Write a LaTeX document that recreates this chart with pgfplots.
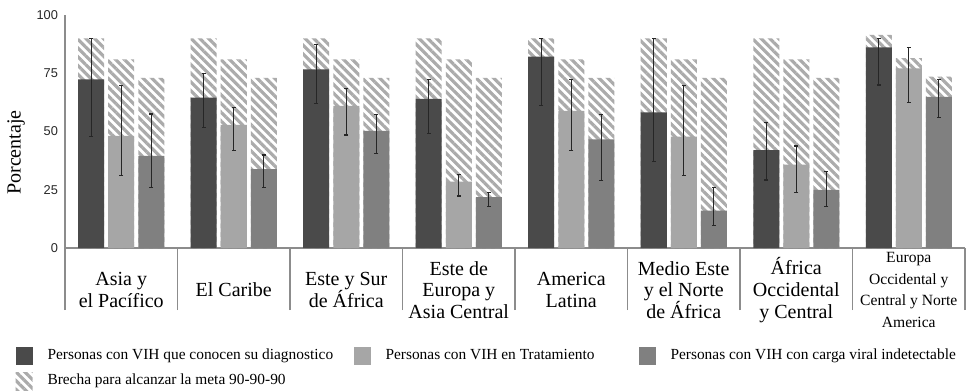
\documentclass[border=0pt]{standalone}
\usepackage{fontspec}
\setmainfont{Liberation Serif}
\newfontfamily\sansf{Liberation Sans}
\usepackage{pgfplots}
\pgfplotsset{compat=1.18}
\usepackage{pgfplotstable}
\usetikzlibrary{patterns.meta}
\definecolor{cdark}{HTML}{4A4A4A}
\definecolor{clight}{HTML}{A6A6A6}
\definecolor{cmid}{HTML}{808080}
\definecolor{chatch}{HTML}{ABABAB}
\definecolor{caxis}{HTML}{8C8C8C}
\newcommand\eu{\fontsize{7.8}{8.7}\selectfont}

% x positions of the three bars within each group (group centres 0..7, offset 15pt = 0.2667)
\pgfplotstableread{
x xd xm d dp dm l lp lm m mp mm g1 g2 g3
0 -0.2667 0.2667 72.4 17.6 24.6 48.1 21.6 17.1 39.5 18.0 13.5 90 81 73
1 0.7333 1.2667 64.5 10.5 12.9 52.8 7.6 10.8 33.9 6.0 7.9 90 81 73
2 1.7333 2.2667 76.7 10.7 14.8 61.0 7.5 12.5 50.3 7.1 9.7 90 81 73
3 2.7333 3.2667 64.0 8.4 14.8 28.5 3.1 6.2 21.8 1.9 4.1 90 81 73
4 3.7333 4.2667 82.1 7.9 21.1 58.8 13.6 16.8 46.6 10.8 17.8 90 81 73
5 4.7333 5.2667 58.2 31.8 21.2 47.8 21.9 16.8 16.0 10.0 6.4 90 81 73
6 5.7333 6.2667 42.0 12.0 12.8 35.8 8.0 11.9 24.9 7.8 7.2 90 81 73
7 6.7333 7.2667 86.1 3.9 16.1 77.1 8.9 14.6 64.9 7.5 9.0 91.5 81.5 73.5
}\data

\tikzset{hatchfill/.style={draw=none, pattern={Lines[angle=-45,distance=3.1pt,line width=1.6pt]}, pattern color=chatch}}
\pgfplotsset{
  errs/.style={error bars/.cd, y dir=both, y explicit,
    error bar style={line width=0.6pt, black!85},
    error mark options={rotate=90, mark size=1pt, line width=0.6pt, black!85}},
}

\begin{document}
\begin{tikzpicture}
\begin{axis}[
  name=ax, at={(0pt,0pt)}, anchor=south west,
  scale only axis, width=450pt, height=116.5pt,
  xmin=-0.5, xmax=7.5, ymin=0, ymax=100,
  axis lines*=left,
  axis line style={caxis, line width=0.8pt},
  xtick={-0.5,0.5,...,7.5}, xticklabels={},
  xtick align=outside, ytick align=inside,
  major tick length=31pt,
  x tick style={draw=caxis, line width=0.8pt},
  ytick={0,25,50,75,100},
  y tick style={draw=none},
  yticklabel style={font=\sansf\fontsize{6.4}{7}\selectfont, text=black!85},
  /pgf/number format/assume math mode=true,
  extra x ticks={0,1,2,3,4,5,6,7},
  extra x tick labels={{Asia y\\el Pacífico},{El Caribe},{Este y Sur\\de África},{Este de\\Europa y\\Asia Central},{America\\Latina},{Medio Este\\y el Norte\\de África},{África\\Occidental\\y Central},{\eu Europa\\\eu Occidental y\\\eu Central y Norte\\\eu America}},
  extra x tick style={major tick length=0pt, x tick style={draw=none},
    xticklabel style={align=center, anchor=center, yshift=-21pt, font=\fontsize{10}{10.9}\selectfont}},
  ylabel={Porcentaje},
  ylabel style={font=\fontsize{10}{12}\selectfont, at={(ticklabel cs:0.41,-1pt)}},
  clip=false,
  legend columns=3,
  legend cell align=left,
  legend style={at={(-0.055,-0.4249)}, anchor=north west, draw=none, fill=none,
    inner sep=0pt, outer sep=0pt, row sep=3.5pt,
    font=\fontsize{7.7}{9}\selectfont,
    nodes={inner xsep=0pt, inner ysep=0pt},
    /tikz/every odd column/.append style={column sep=7.5pt}},
  legend image code/.code={\fill[#1] (0pt,-4.5pt) rectangle (8.5pt,4.5pt);},
]
\addplot[ybar, bar width=13pt, bar shift=0pt, hatchfill, forget plot] table[x=xd,y=g1]{\data};
\addplot[ybar, bar width=13pt, bar shift=0pt, hatchfill, forget plot] table[x=x,y=g2]{\data};
\addplot[ybar, bar width=13pt, bar shift=0pt, hatchfill, forget plot] table[x=xm,y=g3]{\data};
\addplot[ybar, bar width=13pt, bar shift=0pt, fill=cdark, draw=none, forget plot, errs] table[x=xd,y=d,y error plus=dp,y error minus=dm]{\data};
\addplot[ybar, bar width=13pt, bar shift=0pt, fill=clight, draw=none, forget plot, errs] table[x=x,y=l,y error plus=lp,y error minus=lm]{\data};
\addplot[ybar, bar width=13pt, bar shift=0pt, fill=cmid, draw=none, forget plot, errs] table[x=xm,y=m,y error plus=mp,y error minus=mm]{\data};
\addlegendimage{fill=cdark, draw=none}
\addlegendentry{\makebox[153pt][l]{Personas con VIH que conocen su diagnostico}}
\addlegendimage{fill=clight, draw=none}
\addlegendentry{\makebox[126.5pt][l]{Personas con VIH en Tratamiento}}
\addlegendimage{fill=cmid, draw=none}
\addlegendentry{Personas con VIH con carga viral indetectable}
\addlegendimage{draw=none, pattern={Lines[angle=-45,distance=3.1pt,line width=1.6pt]}, pattern color=chatch}
\addlegendentry{Brecha para alcanzar la meta 90-90-90}
\end{axis}
\pgfresetboundingbox
\path (-32.5pt,-71.5pt) rectangle (452.5pt,124pt);
\end{tikzpicture}
\end{document}
